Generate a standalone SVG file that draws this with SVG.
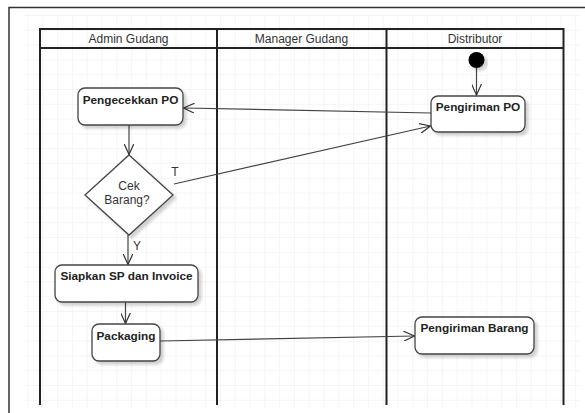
<svg xmlns="http://www.w3.org/2000/svg" width="585" height="413" viewBox="0 0 585 413">
<defs>
<pattern id="grid" x="27.5" y="15" width="14.8" height="14.8" patternUnits="userSpaceOnUse">
<path d="M0,0 H14.8 M0,0 V14.8" fill="none" stroke="#ececec" stroke-width="1"/>
</pattern>
<marker id="arr" viewBox="0 0 12 10" refX="11" refY="5" markerWidth="12" markerHeight="10" markerUnits="userSpaceOnUse" orient="auto">
<path d="M0,0 L11,5 L0,10" fill="none" stroke="#333" stroke-width="1.2"/>
</marker>
<filter id="sh" x="-20%" y="-20%" width="140%" height="150%">
<feGaussianBlur in="SourceAlpha" stdDeviation="1.5"/>
<feOffset dx="3" dy="3" result="b"/>
<feComponentTransfer><feFuncA type="linear" slope="0.18"/></feComponentTransfer>
<feMerge><feMergeNode/><feMergeNode in="SourceGraphic"/></feMerge>
</filter>
</defs>
<style>
.lane{fill:none;stroke:#222;stroke-width:2}
.hdr{font-family:"Liberation Sans",Arial,sans-serif;font-size:12px;fill:#333;text-anchor:middle}
.box{fill:#fff;stroke:#444;stroke-width:1.3}
.lbl{font-family:"Liberation Sans",Arial,sans-serif;font-size:11.8px;font-weight:bold;fill:#222;text-anchor:middle}
.txt{font-family:"Liberation Sans",Arial,sans-serif;font-size:12px;fill:#333;text-anchor:middle}
.edge{fill:none;stroke:#444;stroke-width:1.2}
</style>
<rect x="0" y="0" width="585" height="413" fill="#fff"/>
<rect x="25" y="15" width="555" height="393" fill="url(#grid)"/>
<path d="M9,413 V7.5 H585" fill="none" stroke="#333" stroke-width="1.5"/>
<g id="swimlanes">
<path class="lane" d="M40,405 V29 H563.5 V405 M40,48 H563.5 M217,29 V405 M386.5,29 V405"/>
<text class="hdr" x="128.5" y="43">Admin Gudang</text>
<text class="hdr" x="301.5" y="43">Manager Gudang</text>
<text class="hdr" x="475" y="43">Distributor</text>
</g>
<g id="connectors">
<path class="edge" d="M476.5,68 V95" marker-end="url(#arr)"/>
<path class="edge" d="M431,113 L183.5,108" marker-end="url(#arr)"/>
<path class="edge" d="M129,125 V154.5" marker-end="url(#arr)"/>
<path class="edge" d="M174,184 L430.5,126" marker-end="url(#arr)"/>
<path class="edge" d="M128,235 V264.5" marker-end="url(#arr)"/>
<path class="edge" d="M125.5,302 V323.5" marker-end="url(#arr)"/>
<path class="edge" d="M160,341 L414.5,336" marker-end="url(#arr)"/>
<text class="txt" x="175" y="176">T</text>
<text class="txt" x="137" y="250">Y</text>
</g>
<g id="start">
<circle cx="476.5" cy="60" r="8" fill="#000" filter="url(#sh)"/>
</g>
<g id="pengecekkan-po">
<rect class="box" x="78" y="88" width="105" height="37" rx="7" filter="url(#sh)"/>
<text class="lbl" x="130.5" y="104">Pengecekkan PO</text>
</g>
<g id="pengiriman-po">
<rect class="box" x="431" y="96" width="94" height="36" rx="7" filter="url(#sh)"/>
<text class="lbl" x="478" y="111">Pengiriman PO</text>
</g>
<g id="cek-barang">
<polygon class="box" points="129,155 173,195 129,235 85,195" filter="url(#sh)"/>
<text class="txt" x="129" y="189.5">Cek</text>
<text class="txt" x="127" y="203.5">Barang?</text>
</g>
<g id="siapkan-sp">
<rect class="box" x="55" y="265" width="143" height="37" rx="7" filter="url(#sh)"/>
<text class="lbl" x="126.5" y="280">Siapkan SP dan Invoice</text>
</g>
<g id="packaging">
<rect class="box" x="92" y="324" width="68" height="37" rx="7" filter="url(#sh)"/>
<text class="lbl" x="126" y="340">Packaging</text>
</g>
<g id="pengiriman-barang">
<rect class="box" x="415" y="317" width="119" height="37" rx="7" filter="url(#sh)"/>
<text class="lbl" x="474.5" y="332">Pengiriman Barang</text>
</g>
</svg>
